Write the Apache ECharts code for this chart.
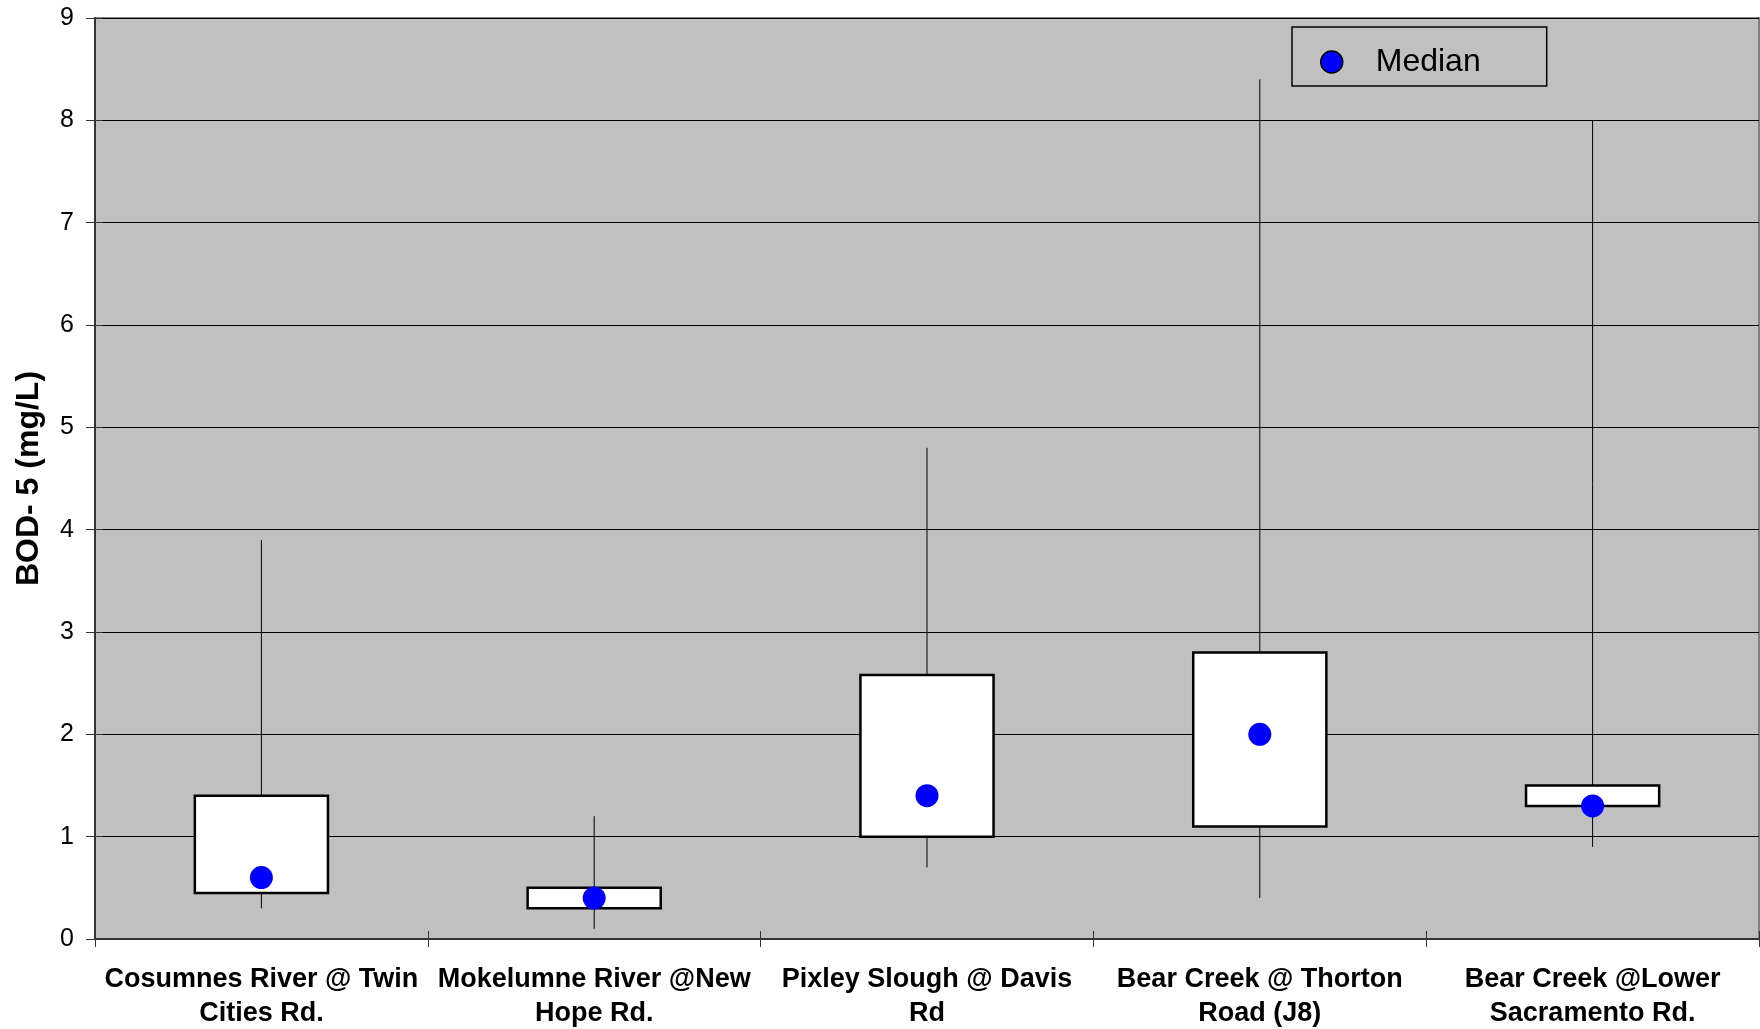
<!DOCTYPE html>
<html>
<head>
<meta charset="utf-8">
<script src="https://cdn.jsdelivr.net/npm/echarts@6/dist/echarts.min.js"></script>
<style>
html,body{margin:0;padding:0;background:#fff;}
#chart{width:1760px;height:1029px;}
</style>
</head>
<body>
<div id="chart"></div>
<script>
const categories = [
  "Cosumnes River @ Twin\nCities Rd.",
  "Mokelumne River @New\nHope Rd.",
  "Pixley Slough @ Davis\nRd",
  "Bear Creek @ Thorton\nRoad (J8)",
  "Bear Creek @Lower\nSacramento Rd."
];
const minValues    = [0.3, 0.1, 0.7, 0.4, 0.9];
const q1Values     = [0.45, 0.3, 1.0, 1.1, 1.3];
const medianValues = [0.6, 0.4, 1.4, 2.0, 1.3];
const q3Values     = [1.4, 0.5, 2.58, 2.8, 1.5];
const maxValues    = [3.9, 1.2, 4.8, 8.4, 8.0];
const yTicks = [0, 1, 2, 3, 4, 5, 6, 7, 8, 9];

const FONT = '"Liberation Sans", Arial, sans-serif';
const boxData = categories.map((c, i) => [i, minValues[i], q1Values[i], q3Values[i], maxValues[i]]);

const chart = echarts.init(document.getElementById('chart'), null, {renderer: 'canvas'});
chart.setOption({
  animation: false,
  backgroundColor: '#ffffff',
  textStyle: {fontFamily: FONT},
  grid: {
    left: 95, top: 18, right: 1, bottom: 90,
    containLabel: false,
    outerBoundsMode: 'none',
    show: true, backgroundColor: '#C0C0C0', borderColor: '#808080', borderWidth: 2
  },
  legend: {
    data: ['Median'],
    left: 1292, top: 27,
    orient: 'horizontal',
    padding: [19, 66, 8, 28],
    borderColor: '#000', borderWidth: 1.5,
    itemWidth: 22, itemHeight: 22,
    itemStyle: {borderColor: '#000', borderWidth: 1.5},
    textStyle: {fontFamily: FONT, fontSize: 32, color: '#000', padding: [0, 0, 0, 28]}
  },
  xAxis: [{
    type: 'category',
    data: categories,
    boundaryGap: true,
    axisLine: {show: true, lineStyle: {color: '#333', width: 2}},
    axisTick: {show: true, interval: 0, length: 8, lineStyle: {color: '#333', width: 1}},
    axisLabel: {interval: 0, margin: 24, fontFamily: FONT, fontSize: 27, fontWeight: 'bold', color: '#000', lineHeight: 34},
    splitLine: {show: false}
  }, {
    type: 'category',
    data: categories,
    position: 'bottom',
    boundaryGap: true,
    axisLine: {show: false},
    axisTick: {show: true, inside: true, interval: 0, length: 8, lineStyle: {color: '#333', width: 1}},
    axisLabel: {show: false},
    splitLine: {show: false}
  }],
  yAxis: [{
    type: 'value',
    min: yTicks[0], max: yTicks[yTicks.length - 1], interval: 1,
    name: 'BOD- 5 (mg/L)',
    nameLocation: 'middle',
    nameGap: 50,
    nameRotate: 90,
    nameTextStyle: {fontFamily: FONT, fontSize: 32, fontWeight: 'bold', color: '#000'},
    axisLine: {show: true, lineStyle: {color: '#333', width: 2}},
    axisTick: {show: true, length: 9, lineStyle: {color: '#333', width: 1}},
    axisLabel: {margin: 21, fontFamily: FONT, fontSize: 25, color: '#000'},
    splitLine: {show: true, lineStyle: {color: '#000', width: 1}}
  }, {
    type: 'value',
    min: yTicks[0], max: yTicks[yTicks.length - 1], interval: 1,
    position: 'left',
    axisLine: {show: false},
    axisTick: {show: true, inside: true, length: 8, lineStyle: {color: '#333', width: 1}},
    axisLabel: {show: false},
    splitLine: {show: false}
  }],
  series: [{
    type: 'custom',
    name: 'Range',
    xAxisIndex: 0, yAxisIndex: 0,
    data: boxData,
    renderItem: function (params, api) {
      const x = api.value(0);
      const lo = api.coord([x, api.value(1)]);
      const q1 = api.coord([x, api.value(2)]);
      const q3 = api.coord([x, api.value(3)]);
      const hi = api.coord([x, api.value(4)]);
      const bw = api.size([1, 0])[0] * 0.4;
      return {
        type: 'group',
        children: [
          {type: 'line', shape: {x1: lo[0], y1: lo[1], x2: hi[0], y2: hi[1]},
           style: {stroke: '#000', lineWidth: 1}},
          {type: 'rect', shape: {x: q1[0] - bw / 2, y: q3[1], width: bw, height: q1[1] - q3[1]},
           style: {fill: '#fff', stroke: '#000', lineWidth: 2.5}}
        ]
      };
    },
    z: 2
  }, {
    type: 'scatter',
    name: 'Median',
    xAxisIndex: 0, yAxisIndex: 0,
    data: medianValues,
    symbol: 'circle',
    symbolSize: 23,
    itemStyle: {color: '#0000FF', opacity: 1},
    z: 3
  }]
});
</script>
</body>
</html>
